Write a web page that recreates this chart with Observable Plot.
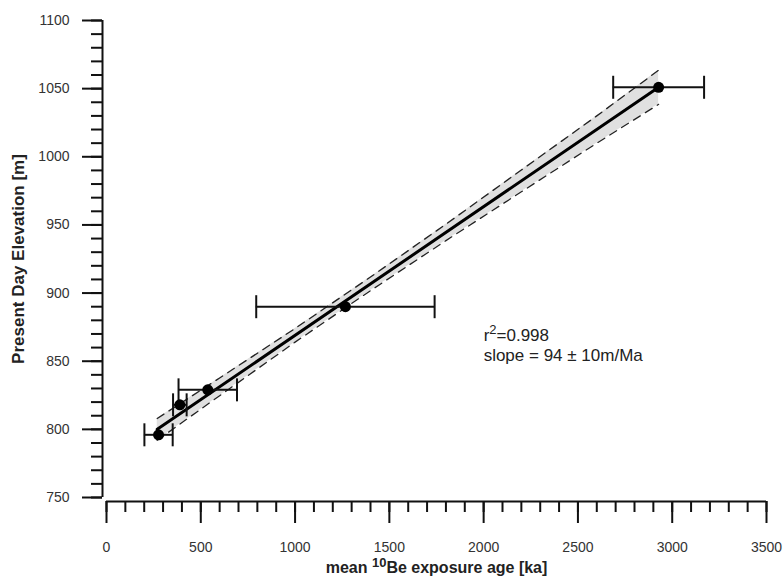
<!DOCTYPE html>
<html>
<head>
<meta charset="utf-8">
<script src="https://cdn.jsdelivr.net/npm/d3@7"></script>
<script src="https://cdn.jsdelivr.net/npm/@observablehq/plot@0.6"></script>
<style>
  html, body { margin: 0; padding: 0; background: #fff; }
  #chart svg { display: block; }
</style>
</head>
<body>
<div id="chart"></div>
<script>
// ---- data ----
const age      = [276, 389, 537, 1267, 2928];   // mean 10Be exposure age [ka]
const ageErr   = [75, 36, 155, 473, 241];        // ± [ka]
const elev     = [796, 818, 829, 890, 1051];     // present day elevation [m]

// regression line end points
const fitAge   = [269, 2928];
const fitElev  = [800, 1051];

// confidence band (read along the fit)
const bandAge  = [269, 600, 1000, 1400, 1800, 2200, 2600, 2928];
const bandLow  = [792, 824.7, 864, 901.8, 938.5, 974.3, 1010, 1038.5];
const bandHigh = [808, 837.7, 874, 911.8, 950.5, 990.3, 1030, 1063.5];

// ticks
const xMajor = [0, 500, 1000, 1500, 2000, 2500, 3000, 3500];
const xMinor = d3.range(0, 3501, 100);
const yMajor = [750, 800, 850, 900, 950, 1000, 1050, 1100];
const yMinor = d3.range(750, 1101, 10);

const annR2    = "r2=0.998";
const annSlope = "slope = 94 ± 10m/Ma";
const annPos   = {x: 2000, y1: 869, y2: 854};

// ---- tables ----
const pts = age.map((a, i) => ({age: a, err: ageErr[i], elev: elev[i]}));
const caps = pts.flatMap(d => [{age: d.age - d.err, elev: d.elev}, {age: d.age + d.err, elev: d.elev}]);
const fit = fitAge.map((a, i) => ({age: a, elev: fitElev[i]}));
const band = bandAge.map((a, i) => ({age: a, low: bandLow[i], high: bandHigh[i]}));

// vertical-bar symbol for error-bar caps
const capSymbol = {
  draw(context, size) {
    const r = Math.sqrt(size / Math.PI);
    context.moveTo(0, -r);
    context.lineTo(0, r);
  }
};

const ink = "#111";
const fmt = d => String(d);

const svg = Plot.plot({
  width: 783,
  height: 577,
  marginLeft: 106,
  marginRight: 17,
  marginTop: 20,
  marginBottom: 80,
  style: {fontFamily: "'Liberation Sans', Arial, sans-serif", fontSize: "14px", color: "#222", background: "#fff"},
  x: {domain: [0, 3500]},
  y: {domain: [750, 1100]},
  marks: [
    // band
    Plot.areaY(band, {x: "age", y1: "low", y2: "high", fill: "#e0e0e0"}),
    Plot.line(band, {x: "age", y: "low", stroke: "#222", strokeWidth: 1.3, strokeDasharray: "8,6"}),
    Plot.line(band, {x: "age", y: "high", stroke: "#222", strokeWidth: 1.3, strokeDasharray: "8,6"}),
    // fit
    Plot.line(fit, {x: "age", y: "elev", stroke: "#000", strokeWidth: 3}),
    // error bars
    Plot.ruleY(pts, {y: "elev", x1: d => d.age - d.err, x2: d => d.age + d.err, stroke: ink, strokeWidth: 2}),
    Plot.dot(caps, {x: "age", y: "elev", symbol: capSymbol, r: 11.5, stroke: ink, strokeWidth: 2, fill: "none"}),
    // points
    Plot.dot(pts, {x: "age", y: "elev", r: 5.5, fill: "#000", stroke: "none"}),
    // axes
    Plot.ruleX([0], {dx: -4, stroke: ink, strokeWidth: 2}),
    Plot.ruleY([750], {dy: 4, stroke: ink, strokeWidth: 2}),
    Plot.axisY({ticks: yMajor, tickFormat: fmt, tickSize: 20, tickPadding: 13, dx: -4, stroke: ink, strokeWidth: 2, label: null, fontSize: 14, fill: "#333"}),
    Plot.axisY({ticks: yMinor, tickSize: 11, dx: -4, stroke: ink, strokeWidth: 2, text: null, label: null}),
    Plot.axisX({ticks: xMajor, tickFormat: fmt, tickSize: 22, tickPadding: 19, dy: 4, stroke: ink, strokeWidth: 2, label: null, fontSize: 14, fill: "#333"}),
    Plot.axisX({ticks: xMinor, tickSize: 11, dy: 4, stroke: ink, strokeWidth: 2, text: null, label: null}),
    // axis titles
    Plot.text(["Present Day Elevation [m]"], {frameAnchor: "left", dx: -88, rotate: -90, textAnchor: "middle", lineAnchor: "middle", fontSize: 17, fontWeight: "bold", fill: "#222"}),
    Plot.text(["mean 10Be exposure age [ka]"], {frameAnchor: "bottom", dy: 70, textAnchor: "middle", lineAnchor: "middle", fontSize: 16, fontWeight: "bold", fill: "#222"}),
    // annotation
    Plot.text([annR2], {x: () => annPos.x, y: () => annPos.y1, textAnchor: "start", fontSize: 17, fill: "#222"}),
    Plot.text([annSlope], {x: () => annPos.x, y: () => annPos.y2, textAnchor: "start", fontSize: 17, fill: "#222"})
  ]
});

// superscripts as real text
function superscript(svgNode, full, before, sup, after, shift, scale) {
  d3.select(svgNode).selectAll("text").filter(function () { return this.textContent === full; }).each(function () {
    const t = d3.select(this);
    t.text(null);
    t.append("tspan").text(before);
    t.append("tspan").attr("dy", -shift).attr("font-size", scale).text(sup);
    t.append("tspan").attr("dy", shift).text(after);
  });
}
superscript(svg, "mean 10Be exposure age [ka]", "mean ", "10", "Be exposure age [ka]", 6, "13px");
superscript(svg, annR2, "r", "2", "=0.998", 7, "13px");

document.getElementById("chart").appendChild(svg);
</script>
</body>
</html>
